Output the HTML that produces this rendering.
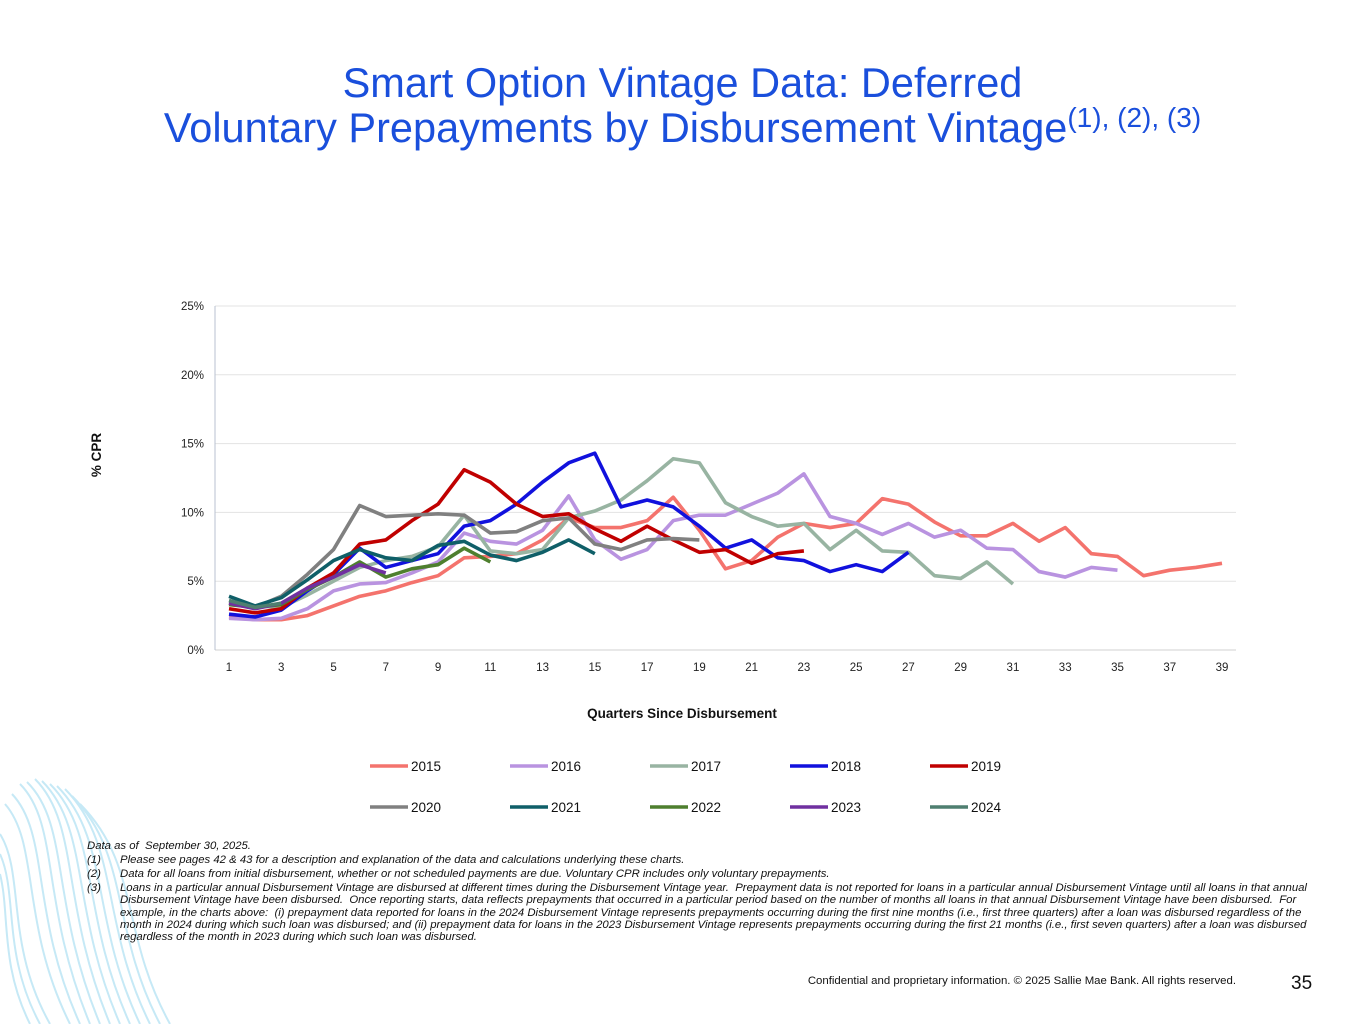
<!DOCTYPE html>
<html><head><meta charset="utf-8">
<style>
body{margin:0;width:1365px;height:1024px;overflow:hidden;background:#fff;font-family:"Liberation Sans",Arial,sans-serif;position:relative}
.title{position:absolute;left:0;width:1365px;top:60px;text-align:center;color:#1a4fdc;font-size:41.5px;line-height:45px}
.title sup{font-size:28px;vertical-align:15px;line-height:0}
.fn{position:absolute;left:87px;top:840px;width:1235px;font-size:11.35px;font-style:italic;color:#111;line-height:12.4px}
.fn .r{display:flex;margin-top:1.5px}.fn .n{width:33px;flex:none}
</style></head><body>
<svg width="200" height="260" style="position:absolute;left:0;top:764px" viewBox="0 0 200 260">
<g fill="none" stroke="#c6e9f6" stroke-width="2">
<path d="M20 20 C60 60 40 140 90 260"/><path d="M35 15 C80 60 60 140 110 260"/><path d="M50 20 C100 70 80 150 130 260"/><path d="M65 25 C120 80 100 160 150 260"/><path d="M80 40 C140 100 120 170 170 260"/><path d="M5 40 C40 80 20 160 70 260"/><path d="M0 70 C25 110 5 180 50 260"/><path d="M0 110 C10 150 0 200 30 260"/>
<path d="M27 18 C70 60 50 140 100 260"/><path d="M42 17 C90 65 70 145 120 260"/><path d="M57 22 C110 75 90 155 140 260"/><path d="M72 32 C130 90 110 165 160 260"/><path d="M12 30 C50 70 30 150 80 260"/><path d="M0 90 C18 130 2 190 40 260"/>
</g></svg>
<div class="title">Smart Option Vintage Data: Deferred<br>Voluntary Prepayments by Disbursement Vintage<sup>(1), (2), (3)</sup></div>
<svg id="chart" width="1365" height="830" style="position:absolute;left:0;top:0"></svg>
<div class="fn">
<div>Data as of &nbsp;September 30, 2025.</div>
<div class="r"><span class="n">(1)</span><span>Please see pages 42 &amp; 43 for a description and explanation of the data and calculations underlying these charts.</span></div>
<div class="r"><span class="n">(2)</span><span>Data for all loans from initial disbursement, whether or not scheduled payments are due. Voluntary CPR includes only voluntary prepayments.</span></div>
<div class="r"><span class="n">(3)</span><span>Loans in a particular annual Disbursement Vintage are disbursed at different times during the Disbursement Vintage year.&nbsp; Prepayment data is not reported for loans in a particular annual Disbursement Vintage until all loans in that annual Disbursement Vintage have been disbursed.&nbsp; Once reporting starts, data reflects prepayments that occurred in a particular period based on the number of months all loans in that annual Disbursement Vintage have been disbursed.&nbsp; For example, in the charts above:&nbsp; (i) prepayment data reported for loans in the 2024 Disbursement Vintage represents prepayments occurring during the first nine months (i.e., first three quarters) after a loan was disbursed regardless of the month in 2024 during which such loan was disbursed; and (ii) prepayment data for loans in the 2023 Disbursement Vintage represents prepayments occurring during the first 21 months (i.e., first seven quarters) after a loan was disbursed regardless of the month in 2023 during which such loan was disbursed.</span></div>
</div>
<div style="position:absolute;right:129px;top:975px;font-size:11.4px;color:#111">Confidential and proprietary information. © 2025 Sallie Mae Bank. All rights reserved.</div>
<div style="position:absolute;left:1291px;top:973px;font-size:19px;color:#111">35</div>
<script>
const yTicks=[0,5,10,15,20,25];
const xTicks=[1,3,5,7,9,11,13,15,17,19,21,23,25,27,29,31,33,35,37,39];
const vintages=["2015","2016","2017","2018","2019","2020","2021","2022","2023","2024"];
const colors=["#f4736d","#b993e0","#98b4a2","#1111dd","#c00000","#808080","#0f5f68","#4e7f2e","#7030a0","#4f7f70"];
const s2015=[2.4,2.2,2.2,2.5,3.2,3.9,4.3,4.9,5.4,6.7,6.8,7.0,8.0,9.6,8.9,8.9,9.4,11.1,8.7,5.9,6.5,8.2,9.2,8.9,9.2,11.0,10.6,9.3,8.3,8.3,9.2,7.9,8.9,7.0,6.8,5.4,5.8,6.0,6.3];
const s2016=[2.3,2.2,2.3,3.0,4.3,4.8,4.9,5.6,6.4,8.5,7.9,7.7,8.7,11.2,8.0,6.6,7.3,9.4,9.8,9.8,10.6,11.4,12.8,9.7,9.2,8.4,9.2,8.2,8.7,7.4,7.3,5.7,5.3,6.0,5.8];
const s2017=[3.5,3.2,3.1,4.0,5.0,6.0,6.5,6.8,7.5,9.8,7.2,7.0,7.3,9.6,10.1,10.9,12.3,13.9,13.6,10.7,9.7,9.0,9.2,7.3,8.7,7.2,7.1,5.4,5.2,6.4,4.8];
const s2018=[2.6,2.4,2.9,4.3,5.5,7.4,6.0,6.5,7.0,9.0,9.4,10.6,12.2,13.6,14.3,10.4,10.9,10.4,9.0,7.4,8.0,6.7,6.5,5.7,6.2,5.7,7.1];
const s2019=[3.0,2.7,3.0,4.5,5.6,7.7,8.0,9.4,10.6,13.1,12.2,10.6,9.7,9.9,8.8,7.9,9.0,8.0,7.1,7.3,6.3,7.0,7.2];
const s2020=[3.4,3.1,3.9,5.5,7.3,10.5,9.7,9.8,9.9,9.8,8.5,8.6,9.4,9.6,7.7,7.3,8.0,8.1,8.0];
const s2021=[3.9,3.2,3.8,5.1,6.5,7.3,6.7,6.5,7.6,7.9,6.9,6.5,7.1,8.0,7.0];
const s2022=[3.3,3.1,3.3,4.4,5.3,6.4,5.3,5.9,6.2,7.4,6.4];
const s2023=[3.4,3.0,3.4,4.5,5.3,6.2,5.6];
const s2024=[3.6,3.1,3.4];
const series=[s2015,s2016,s2017,s2018,s2019,s2020,s2021,s2022,s2023,s2024];
const svg=document.getElementById('chart');const NS='http://www.w3.org/2000/svg';
const L=215,R=1236,T=306,B=650;
const xs=q=>229+(q-1)*(1222-229)/38;
const ys=v=>B-(v/25)*(B-T);
function mk(t,a,p){const e=document.createElementNS(NS,t);for(const k in a)e.setAttribute(k,a[k]);(p||svg).appendChild(e);return e;}
yTicks.forEach(v=>{
 const g=mk('line',{x1:L,x2:R,y1:ys(v),y2:ys(v),stroke:v===0?'#d0d0d0':'#e3e3e3','stroke-width':1});
 
 
 const t=mk('text',{x:204,y:ys(v)+4,'text-anchor':'end','font-size':11.5,fill:'#222'});t.textContent=v+'%';
 
 
});
const ax=mk('line',{x1:L,x2:L,y1:T,y2:B,stroke:'#b8c2d0','stroke-width':1});


xTicks.forEach(q=>{const t=mk('text',{x:xs(q),y:671,'text-anchor':'middle','font-size':11.5,fill:'#222'});t.textContent=q;
 
 });
let t=mk('text',{x:682,y:718,'text-anchor':'middle','font-size':13.5,'font-weight':'bold',fill:'#111'});t.textContent='Quarters Since Disbursement';


t=mk('text',{x:101,y:455,'text-anchor':'middle','font-size':13.5,'font-weight':'bold',fill:'#111',transform:'rotate(-90 101 455)'});t.textContent='% CPR';


series.forEach((s,i)=>{
 const p=mk('polyline',{points:s.map((v,j)=>xs(j+1)+','+ys(v)).join(' '),fill:'none',stroke:colors[i],'stroke-width':3.6,'stroke-linejoin':'round'});
 
 
});
vintages.forEach((v,i)=>{
 const x=370+(i%5)*140,y=i<5?766:807;
 const g=mk('g',{});
 
 
 mk('line',{x1:x,x2:x+38,y1:y,y2:y,stroke:colors[i],'stroke-width':3.6},g);
 const tt=mk('text',{x:x+41,y:y+5,'font-size':13.5,fill:'#111'},g);tt.textContent=v;
});
</script>
</body></html>
